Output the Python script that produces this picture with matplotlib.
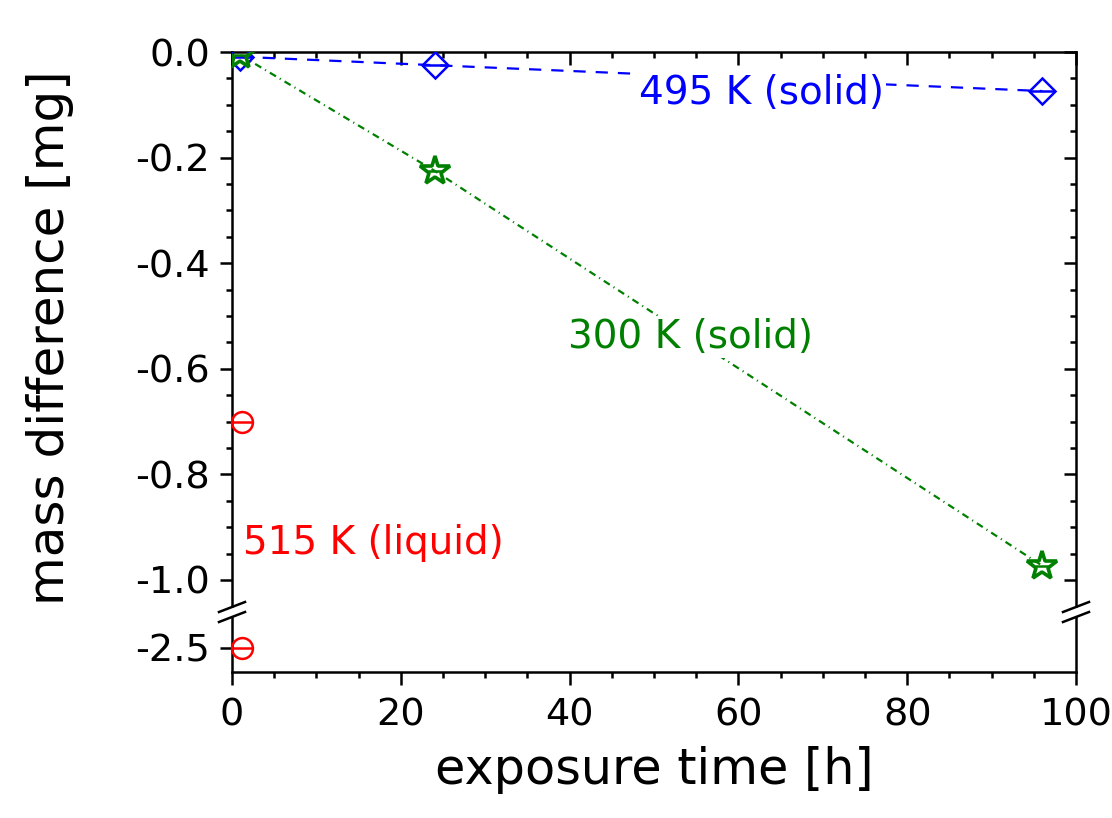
import matplotlib
matplotlib.use("Agg")
import matplotlib.pyplot as plt
from matplotlib.ticker import MultipleLocator, FixedLocator, FormatStrFormatter

plt.rcParams["axes.unicode_minus"] = False
plt.rcParams["font.family"] = ["DejaVu Sans"]

# exposure time [h] and mass difference [mg]
time_495 = [1, 24, 96]
mass_495 = [-0.009, -0.025, -0.074]
time_300 = [1, 24, 96]
mass_300 = [-0.006, -0.225, -0.973]
time_515 = [1.2, 1.2]
mass_515 = [-0.70, -2.50]

x_ticks = [0, 20, 40, 60, 80, 100]
y_ticks_upper = [0.0, -0.2, -0.4, -0.6, -0.8, -1.0]
y_ticks_lower = [-2.5]

BLUE = "#0000ff"
GREEN = "#008000"
RED = "#ff0000"

W, H = 1112, 818
fig = plt.figure(figsize=(W / 100, H / 100), dpi=100)

def frac_box(left, top, right, bottom):
    return [left / W, 1 - bottom / H, (right - left) / W, (bottom - top) / H]

ax = fig.add_axes(frac_box(232, 52, 1076, 606))
axb = fig.add_axes(frac_box(232, 617, 1076, 672))

px_per_unit = 528.0
ax.set_ylim(-(606 - 52) / px_per_unit, 0.0)
axb.set_ylim(-2.5 - 24 / px_per_unit, -2.5 + 31 / px_per_unit)
for a in (ax, axb):
    a.set_xlim(0, 100)

spine_lw = 1.8
tick_fs = 27.5
for a in (ax, axb):
    for s in a.spines.values():
        s.set_linewidth(spine_lw)

# upper panel
ax.spines["bottom"].set_visible(False)
ax.yaxis.set_major_locator(FixedLocator(y_ticks_upper))
ax.yaxis.set_minor_locator(MultipleLocator(0.05))
ax.yaxis.set_major_formatter(FormatStrFormatter("%.1f"))
ax.xaxis.set_major_locator(FixedLocator(x_ticks))
ax.xaxis.set_minor_locator(MultipleLocator(5))
ax.tick_params(axis="y", which="both", left=True, right=False, labelsize=tick_fs,
               width=spine_lw, pad=7)
ax.tick_params(axis="y", which="major", length=9, direction="out")
ax.tick_params(axis="y", which="minor", length=4.5, direction="out")
ax.tick_params(axis="x", which="both", bottom=False, top=True, labelbottom=False,
               direction="in", width=spine_lw)
ax.tick_params(axis="x", which="major", length=9)
ax.tick_params(axis="x", which="minor", length=4.5)

# inward ticks on the right spine
axr = ax.twinx()
axr.set_ylim(ax.get_ylim())
axr.yaxis.set_major_locator(FixedLocator(y_ticks_upper))
axr.yaxis.set_minor_locator(MultipleLocator(0.05))
axr.tick_params(axis="y", which="both", direction="in", labelright=False, width=spine_lw)
axr.tick_params(axis="y", which="major", length=9)
axr.tick_params(axis="y", which="minor", length=4.5)
for s in axr.spines.values():
    s.set_visible(False)

# lower panel
axb.spines["top"].set_visible(False)
axb.yaxis.set_major_locator(FixedLocator(y_ticks_lower))
axb.yaxis.set_major_formatter(FormatStrFormatter("%.1f"))
axb.xaxis.set_major_locator(FixedLocator(x_ticks))
axb.xaxis.set_minor_locator(MultipleLocator(5))
axb.tick_params(axis="y", which="major", length=9, width=spine_lw, direction="out",
                labelsize=tick_fs, pad=7)
axb.tick_params(axis="x", which="major", length=9, width=spine_lw, direction="out",
                labelsize=tick_fs, pad=9, top=False)
axb.tick_params(axis="x", which="minor", length=4.5, width=spine_lw, direction="out",
                top=False)

axb.set_xlabel("exposure time [h]", fontsize=35.5, labelpad=9)
fig.text(50 / W, 1 - 338 / H, "mass difference [mg]", rotation=90,
         fontsize=36, ha="center", va="center")

# data series
ax.plot(time_495, mass_495, color=BLUE, lw=1.6, dashes=(5.5, 4.5), zorder=2)
ax.plot(time_495, mass_495, ls="none", marker="D", ms=13.5, mfc="none",
        mec=BLUE, mew=1.8, zorder=4)
ax.plot(time_495, mass_495, ls="none", marker="_", ms=18.5, mec=BLUE, mew=1.8,
        zorder=4)

ax.plot(time_300, mass_300, color=GREEN, lw=1.6, dashes=(3.2, 2.0, 0.5, 2.0), zorder=2)
ax.plot(time_300, mass_300, ls="none", marker="*", ms=22, mfc="none",
        mec=GREEN, mew=2.6, zorder=4)
ax.plot(time_300, mass_300, ls="none", marker="_", ms=10, mec=GREEN, mew=1.8,
        zorder=4)

for a, t, m in ((ax, time_515[0], mass_515[0]), (axb, time_515[1], mass_515[1])):
    a.plot([t], [m], ls="none", marker="o", ms=15, mfc="none", mec=RED, mew=1.8,
           zorder=4, clip_on=False)
    a.plot([t], [m], ls="none", marker="_", ms=15, mec=RED, mew=1.8, zorder=4,
           clip_on=False)

label_box = dict(facecolor="white", edgecolor="none", pad=1.5)
label_fs = 28
ax.text(62.7, -0.078, "495 K (solid)", color=BLUE, fontsize=label_fs, ha="center",
        va="center", bbox=label_box, zorder=3)
ax.text(54.3, -0.540, "300 K (solid)", color=GREEN, fontsize=label_fs, ha="center",
        va="center", bbox=label_box, zorder=3)
ax.text(1.3, -0.930, "515 K (liquid)", color=RED, fontsize=label_fs, ha="left",
        va="center", zorder=3)

# axis break marks on both vertical spines
dx, dy = 13, 5
for ypix in (607, 617):
    for xpix in (232, 1076):
        fig.add_artist(plt.Line2D([(xpix - dx) / W, (xpix + dx) / W],
                                  [1 - (ypix + dy) / H, 1 - (ypix - dy) / H],
                                  color="black", lw=spine_lw))

fig.savefig("out.png", dpi=100)
